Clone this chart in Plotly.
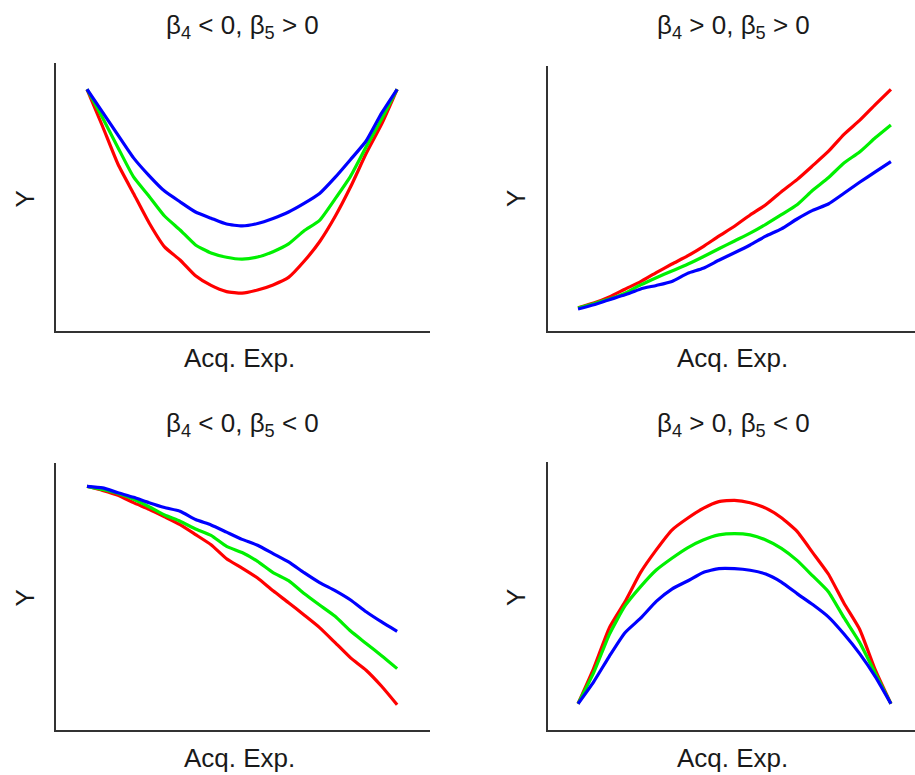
import plotly.graph_objects as go

# Acquired experience (arbitrary units), shared by every panel
acq_exp = [0, 0.5, 1, 1.5, 2, 2.5, 3, 3.5, 4, 4.5, 5,
           5.5, 6, 6.5, 7, 7.5, 8, 8.5, 9, 9.5, 10]

# Panel A: beta4 < 0, beta5 > 0
a_red = [90.2, 76.4, 62.2, 51.3, 40.4, 31.4, 26.5, 20.6, 17.0, 14.7, 14.1,
         15.3, 17.2, 20.0, 26.0, 33.3, 42.7, 53.8, 66.2, 77.2, 90.2]
a_green = [90.2, 79.6, 68.4, 57.5, 50.3, 42.9, 37.7, 32.1, 29.1, 27.5, 26.8,
           27.6, 29.6, 32.5, 37.4, 41.3, 49.3, 57.8, 68.7, 79.1, 90.2]
a_blue = [90.2, 81.7, 73.1, 64.6, 58.0, 52.2, 48.2, 44.4, 42.1, 39.9, 39.2,
          40.1, 42.0, 44.4, 47.6, 51.3, 57.3, 64.0, 70.9, 81.3, 90.2]

# Panel B: beta4 > 0, beta5 > 0
b_red = [8.7, 10.4, 12.7, 15.6, 18.4, 21.8, 25.0, 28.0, 31.5, 35.4, 39.1,
         43.3, 47.1, 52.0, 56.5, 61.7, 67.0, 73.4, 78.6, 84.5, 90.2]
b_green = [8.6, 10.2, 11.9, 14.1, 17.2, 19.9, 22.4, 24.9, 27.7, 30.7, 33.6,
           36.5, 39.8, 43.4, 47.1, 52.5, 57.2, 62.7, 66.8, 72.1, 76.9]
b_blue = [8.2, 9.8, 11.7, 13.5, 15.7, 17.0, 18.5, 21.5, 23.4, 26.4, 29.2,
          32.1, 35.4, 38.1, 41.8, 45.0, 47.4, 51.4, 55.5, 59.4, 63.2]

# Panel C: beta4 < 0, beta5 < 0
c_red = [90.9, 89.4, 87.6, 84.8, 82.3, 79.5, 76.6, 72.9, 69.1, 63.9, 60.4,
         56.7, 51.9, 47.5, 42.9, 38.2, 32.6, 26.9, 22.3, 16.3, 9.4]
c_green = [90.9, 89.7, 88.2, 86.1, 83.3, 80.2, 77.9, 75.0, 72.6, 68.5, 66.2,
           62.9, 58.7, 55.7, 50.9, 46.6, 42.4, 36.9, 32.3, 27.7, 22.9]
c_blue = [90.9, 90.3, 88.5, 86.8, 84.8, 83.0, 81.6, 78.5, 76.5, 73.8, 71.1,
          68.9, 65.8, 62.7, 58.7, 55.0, 52.0, 48.5, 44.1, 40.3, 36.8]

# Panel D: beta4 > 0, beta5 < 0
d_red = [9.8, 23.0, 38.1, 47.8, 58.8, 67.2, 74.6, 79.0, 82.7, 85.2, 85.7,
         84.8, 82.8, 79.2, 74.1, 66.2, 58.2, 47.3, 37.6, 22.4, 9.8]
d_green = [9.8, 21.4, 35.6, 46.3, 53.5, 59.7, 64.1, 68.0, 70.9, 72.8, 73.3,
           72.8, 70.9, 67.8, 63.3, 57.5, 51.6, 41.9, 32.7, 21.2, 9.8]
d_blue = [9.8, 18.0, 27.5, 36.3, 41.7, 48.0, 52.6, 55.6, 58.8, 60.2, 60.2,
          59.6, 58.2, 55.2, 50.9, 46.8, 42.2, 35.8, 28.5, 19.9, 9.8]

panel_titles = [
    "β<sub>4</sub> &lt; 0, β<sub>5</sub> &gt; 0",
    "β<sub>4</sub> &gt; 0, β<sub>5</sub> &gt; 0",
    "β<sub>4</sub> &lt; 0, β<sub>5</sub> &lt; 0",
    "β<sub>4</sub> &gt; 0, β<sub>5</sub> &lt; 0",
]
x_label = "Acq. Exp."
y_label = "Y"

series_colors = ["#ff0000", "#00f000", "#0000ff"]
panels = [
    (a_red, a_green, a_blue),
    (b_red, b_green, b_blue),
    (c_red, c_green, c_blue),
    (d_red, d_green, d_blue),
]

W, H = 915, 775
FONT = "Liberation Sans, Arial, sans-serif"
TEXT_COLOR = "#1a1a1a"

# axis boxes in pixels: (left, right, top, bottom)
boxes = [
    (56, 430, 63, 331),
    (548, 915, 66, 331),
    (56, 430, 463, 730),
    (548, 915, 462, 730),
]
# x ranges and y ranges in data units
x_ranges = [[-1.0, 11.06], [-0.96, 10.77], [-1.0, 11.06], [-0.96, 10.77]]
y_ranges = [[0, 100], [0, 98.9], [0, 99.6], [0, 100]]

fig = go.Figure()

for i, series in enumerate(panels):
    sfx = "" if i == 0 else str(i + 1)
    for vals, col in zip(series, series_colors):
        fig.add_trace(go.Scatter(
            x=acq_exp, y=vals, mode="lines",
            line=dict(color=col, width=3.2, shape="spline", smoothing=0.5),
            xaxis="x" + sfx, yaxis="y" + sfx,
            showlegend=False, hoverinfo="skip",
        ))

axis_common = dict(showline=True, linecolor="#333333", linewidth=1.5,
                   showgrid=False, zeroline=False, showticklabels=False,
                   ticks="", fixedrange=True)

layout = dict(
    width=W, height=H,
    margin=dict(l=0, r=0, t=0, b=0),
    paper_bgcolor="white", plot_bgcolor="white",
    showlegend=False,
)

annotations = []
title_pos = [(242, 26), (733.5, 26), (242, 425), (733.5, 425)]
xlab_pos = [(239, 358), (732, 358), (239, 758), (732, 758)]
ylab_pos = [(24.5, 199), (516, 199), (24.5, 598), (516, 598)]

for i, (l, r, t, b) in enumerate(boxes):
    sfx = "" if i == 0 else str(i + 1)
    layout["xaxis" + sfx] = dict(
        axis_common, domain=[l / W, r / W], range=x_ranges[i],
        anchor="y" + sfx)
    layout["yaxis" + sfx] = dict(
        axis_common, domain=[(H - b) / H, (H - t) / H], range=y_ranges[i],
        anchor="x" + sfx)
    tx, ty = title_pos[i]
    annotations.append(dict(
        text=panel_titles[i], x=tx / W, y=(H - ty) / H,
        xref="paper", yref="paper", xanchor="center", yanchor="middle",
        showarrow=False, font=dict(family=FONT, size=26, color=TEXT_COLOR)))
    lx, ly = xlab_pos[i]
    annotations.append(dict(
        text=x_label, x=lx / W, y=(H - ly) / H,
        xref="paper", yref="paper", xanchor="center", yanchor="middle",
        showarrow=False, font=dict(family=FONT, size=26, color=TEXT_COLOR)))
    yx, yy = ylab_pos[i]
    annotations.append(dict(
        text=y_label, x=yx / W, y=(H - yy) / H, textangle=-90,
        xref="paper", yref="paper", xanchor="center", yanchor="middle",
        showarrow=False, font=dict(family=FONT, size=26, color=TEXT_COLOR)))

layout["annotations"] = annotations
fig.update_layout(**layout)

fig.write_html("out.html")
